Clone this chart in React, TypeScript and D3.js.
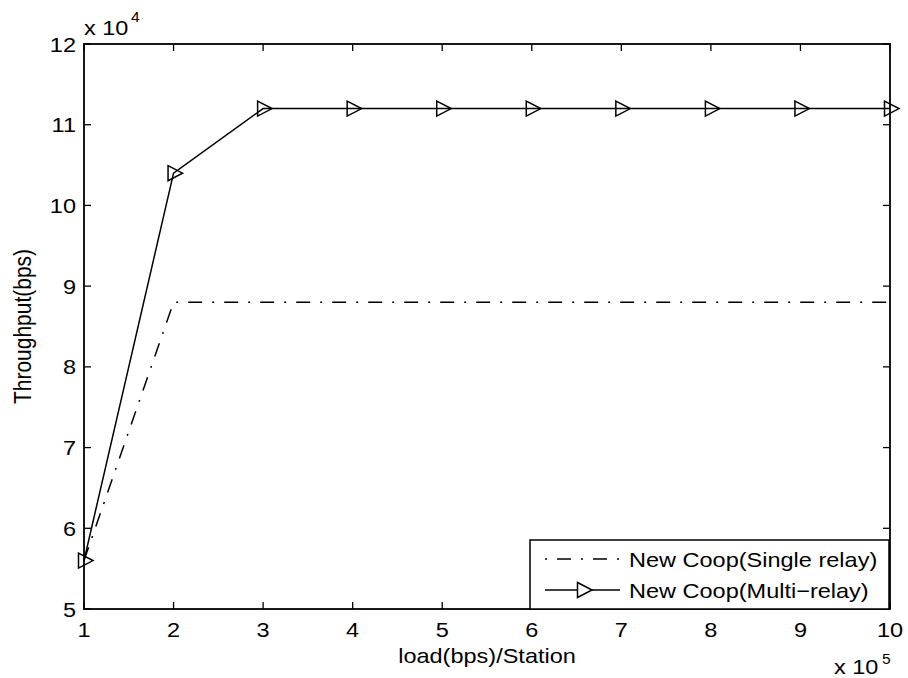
import React from "react";
import * as d3 from "d3";

const loads = [1, 2, 3, 4, 5, 6, 7, 8, 9, 10];
const singleRelay = [5.6, 8.8, 8.8, 8.8, 8.8, 8.8, 8.8, 8.8, 8.8, 8.8];
const multiRelay = [5.6, 10.4, 11.2, 11.2, 11.2, 11.2, 11.2, 11.2, 11.2, 11.2];
const xTicks = [1, 2, 3, 4, 5, 6, 7, 8, 9, 10];
const yTicks = [5, 6, 7, 8, 9, 10, 11, 12];
const seriesNames = ["New Coop(Single relay)", "New Coop(Multi\u2212relay)"];

const W = 908;
const H = 678;
const M = { left: 84, right: 890, top: 44, bottom: 609 };
const FONT = "'Liberation Sans', Arial, Helvetica, sans-serif";
const FS = 21;
const SX = 1.12;

function T(props: {
  x: number;
  y: number;
  anchor?: "start" | "middle" | "end";
  dy?: string;
  size?: number;
  children: React.ReactNode;
}) {
  const { x, y, anchor = "start", dy, size = FS, children } = props;
  return (
    <text
      transform={`translate(${x},${y}) scale(${SX},1)`}
      dy={dy}
      fontSize={size}
      textAnchor={anchor}
      fill="#000"
    >
      {children}
    </text>
  );
}

export default function App() {
  const x = d3.scaleLinear().domain([1, 10]).range([M.left, M.right]);
  const y = d3.scaleLinear().domain([5, 12]).range([M.bottom, M.top]);
  const line = d3
    .line<[number, number]>()
    .x((d) => x(d[0]))
    .y((d) => y(d[1]));
  const sData = loads.map((l, i) => [l, singleRelay[i]] as [number, number]);
  const mData = loads.map((l, i) => [l, multiRelay[i]] as [number, number]);
  const tri = (cx: number, cy: number) =>
    `M${cx - 5.5},${cy - 7.5}L${cx + 9},${cy}L${cx - 5.5},${cy + 7.5}Z`;
  const tickLen = 7;
  const dash = "14 10 2 10";

  const legX = 530,
    legY = 540,
    legW = 359,
    legH = 69;
  const row1 = 559,
    row2 = 590;

  return (
    <svg
      width={W}
      height={H}
      style={{ position: "absolute", left: 0, top: 0, background: "#fff" }}
      fontFamily={FONT}
    >
      <rect x={0} y={0} width={W} height={H} fill="#fff" />
      {/* ticks */}
      {xTicks.map((t) => (
        <g key={"xt" + t}>
          <line x1={x(t)} x2={x(t)} y1={M.bottom} y2={M.bottom - tickLen} stroke="#000" strokeWidth={1.3} />
          <line x1={x(t)} x2={x(t)} y1={M.top} y2={M.top + tickLen} stroke="#000" strokeWidth={1.3} />
          <T x={x(t)} y={637} anchor="middle">
            {t}
          </T>
        </g>
      ))}
      {yTicks.map((t) => (
        <g key={"yt" + t}>
          <line x1={M.left} x2={M.left + tickLen} y1={y(t)} y2={y(t)} stroke="#000" strokeWidth={1.3} />
          <line x1={M.right} x2={M.right - tickLen} y1={y(t)} y2={y(t)} stroke="#000" strokeWidth={1.3} />
          <T x={76} y={y(t)} dy="0.36em" anchor="end">
            {t}
          </T>
        </g>
      ))}
      {/* series */}
      <path d={line(sData) || ""} fill="none" stroke="#000" strokeWidth={1.5} strokeDasharray={dash} />
      <path d={line(mData) || ""} fill="none" stroke="#000" strokeWidth={1.5} />
      {mData.map((d, i) => (
        <path key={"m" + i} d={tri(x(d[0]), y(d[1]))} fill="none" stroke="#000" strokeWidth={1.5} />
      ))}
      {/* frame */}
      <rect
        x={M.left}
        y={M.top}
        width={M.right - M.left}
        height={M.bottom - M.top}
        fill="none"
        stroke="#000"
        strokeWidth={1.8}
      />
      {/* legend */}
      <rect x={legX} y={legY} width={legW} height={legH} fill="#fff" stroke="#000" strokeWidth={1.5} />
      <line x1={545} x2={620} y1={row1} y2={row1} stroke="#000" strokeWidth={1.5} strokeDasharray="2 10 14 10" />
      <line x1={545} x2={620} y1={row2} y2={row2} stroke="#000" strokeWidth={1.5} />
      <path d={tri(583, row2)} fill="#fff" stroke="#000" strokeWidth={1.5} />
      <T x={629} y={row1} dy="0.36em">
        {seriesNames[0]}
      </T>
      <T x={629} y={row2} dy="0.36em">
        {seriesNames[1]}
      </T>
      {/* axis labels */}
      <T x={(M.left + M.right) / 2} y={663} anchor="middle">
        load(bps)/Station
      </T>
      <text
        transform={`translate(31,${(M.top + M.bottom) / 2}) scale(${SX},1) rotate(-90)`}
        fontSize={FS}
        textAnchor="middle"
        fill="#000"
      >
        Throughput(bps)
      </text>
      {/* exponents */}
      <T x={84} y={35}>
        x 10
      </T>
      <T x={131} y={22} size={14}>
        4
      </T>
      <T x={834} y={674}>
        x 10
      </T>
      <T x={882} y={664} size={14}>
        5
      </T>
    </svg>
  );
}
